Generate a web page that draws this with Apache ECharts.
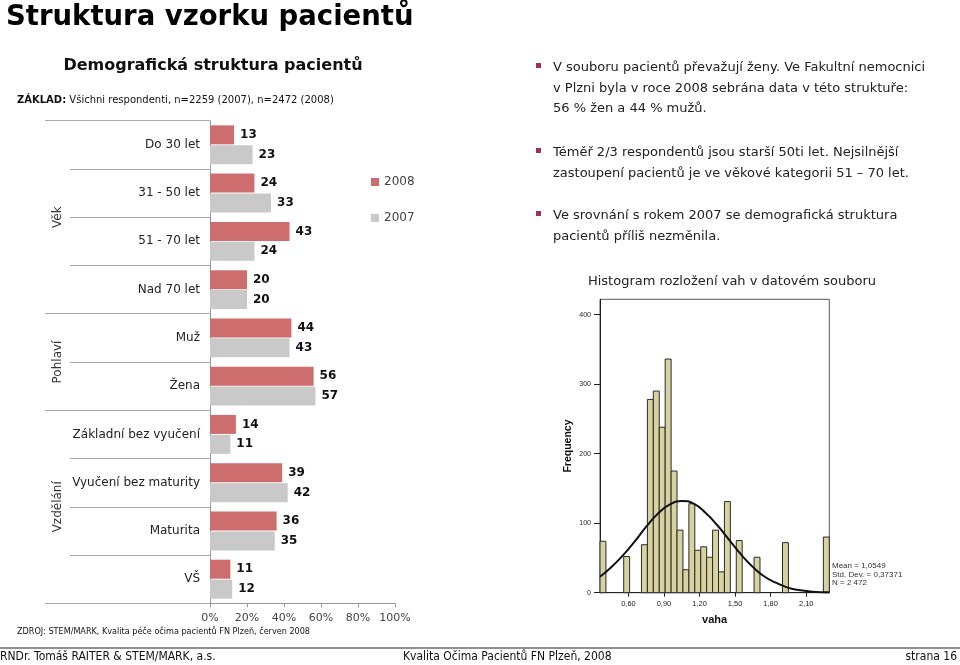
<!DOCTYPE html>
<html><head><meta charset="utf-8">
<script src="https://cdn.jsdelivr.net/npm/echarts@6/dist/echarts.min.js"></script>
<style>html,body{margin:0;padding:0;background:#fff}#c{width:960px;height:665px}</style>
</head><body><div id="c"></div>
<script>
// ---- data ----
const categories = ['Do 30 let','31 - 50 let','51 - 70 let','Nad 70 let','Muž','Žena','Základní bez vyučení','Vyučení bez maturity','Maturita','VŠ'];
const values2008 = [13, 24, 43, 20, 44, 56, 14, 39, 36, 11];
const values2007 = [23, 33, 24, 20, 43, 57, 11, 42, 35, 12];
const seriesNames = ['2008', '2007'];
const groupNames = ['Věk', 'Pohlaví', 'Vzdělání'];
const groupFirst = [0, 4, 6];
const groupLast = [3, 5, 9];

const histBinStart = [0.36, 0.56, 0.71, 0.76, 0.81, 0.86, 0.91, 0.96, 1.01, 1.06, 1.11, 1.16, 1.21, 1.26, 1.31, 1.36, 1.41, 1.51, 1.66, 1.90, 2.245];
const histFreq =     [74,   52,   69,   278,  290,  238,  336,  175,  90,   33,   128,  61,   66,   51,   90,   30,   131,  75,   51,   72,   80];
const binWidth = 0.05;
const curveX = [0.36, 0.45, 0.55, 0.65, 0.75, 0.85, 0.95, 1.05, 1.15, 1.25, 1.35, 1.45, 1.55, 1.65, 1.75, 1.85, 1.95, 2.05, 2.15, 2.295];
const curveY = [23,   36,   53,   73,   95,   114,  127,  132,  128,  115,  97,   76,   55,   37,   23,   14,   7,    3.5,  1.5,  0.5];
const histXTicks = [0.6, 0.9, 1.2, 1.5, 1.8, 2.1];
const histYTicks = [0, 100, 200, 300, 400];
const statsLines = ['Mean = 1,0549', 'Std. Dev. = 0,37371', 'N = 2 472'];

const bulletLines = [
  'V souboru pacientů převažují ženy. Ve Fakultní nemocnici',
  'v Plzni byla v roce 2008 sebrána data v této struktuře:',
  '56 % žen a 44 % mužů.',
  'Téměř 2/3 respondentů jsou starší 50ti let. Nejsilnější',
  'zastoupení pacientů je ve věkové kategorii 51 – 70 let.',
  'Ve srovnání s rokem 2007 se demografická struktura',
  'pacientů příliš nezměnila.'
];
const bulletLineY = [68, 89, 109, 153, 174, 216, 237];
const bulletStarts = [0, 3, 5];

// ---- chart ----
const F = 'DejaVu Sans, Verdana, sans-serif';
const FC = '"DejaVu Sans Condensed", "Liberation Sans Narrow", "Liberation Sans", sans-serif';
const A = '"Liberation Sans", Arial, sans-serif';
const chart = echarts.init(document.getElementById('c'), null, {renderer: 'canvas'});

const option = {
  animation: false,
  textStyle: {fontFamily: F},
  legend: {
    data: seriesNames, orient: 'vertical', left: 366, top: 171,
    itemWidth: 8, itemHeight: 8, itemGap: 24, icon: 'rect',
    textStyle: {fontFamily: F, fontSize: 12, color: '#444'}
  },
  grid: [
    {left: 210, top: 120.7, width: 185, height: 482.6},
    {left: 600, top: 299.3, width: 229.3, height: 293.4, show: true, borderColor: '#555', borderWidth: 1}
  ],
  xAxis: [
    {gridIndex: 0, type: 'value', min: 0, max: 100, interval: 20,
     axisLine: {show: true, lineStyle: {color: '#999'}},
     axisTick: {show: true, length: 4, lineStyle: {color: '#999'}},
     axisLabel: {formatter: '{value}%', fontSize: 11, color: '#444', margin: 9},
     splitLine: {show: false}},
    {gridIndex: 1, type: 'value', min: 0.36, max: 2.295,
     axisLine: {show: true, lineStyle: {color: '#222'}},
     axisTick: {show: true, customValues: histXTicks, length: 4, lineStyle: {color: '#222'}},
     axisLabel: {customValues: histXTicks, formatter: v => v.toFixed(2).replace('.', ','), fontFamily: A, fontSize: 7.5, color: '#222', margin: 7},
     splitLine: {show: false},
     name: 'vaha', nameLocation: 'middle', nameGap: 22,
     nameTextStyle: {fontFamily: A, fontWeight: 'bold', fontSize: 11, color: '#111'}}
  ],
  yAxis: [
    {gridIndex: 0, type: 'category', inverse: true, data: categories, position: 'left',
     axisLine: {show: true, lineStyle: {color: '#999'}},
     axisTick: {show: true, length: 140, lineStyle: {color: '#aaa'}},
     axisLabel: {fontSize: 12, color: '#222', margin: 10}},
    {gridIndex: 0, type: 'category', inverse: true, data: categories, position: 'left', offset: 0,
     axisLine: {show: false},
     axisTick: {show: true, length: 165, interval: (i) => groupFirst.includes(i), lineStyle: {color: '#aaa'}},
     axisLabel: {show: false}},
    {gridIndex: 1, type: 'value', min: 0, max: 422, position: 'left',
     axisLine: {show: true, lineStyle: {color: '#222'}},
     axisTick: {show: true, customValues: histYTicks, length: 6, lineStyle: {color: '#222'}},
     axisLabel: {customValues: histYTicks, fontFamily: A, fontSize: 7, color: '#222', margin: 9},
     splitLine: {show: false},
     name: 'Frequency', nameLocation: 'middle', nameRotate: 90, nameGap: 26,
     nameTextStyle: {fontFamily: A, fontWeight: 'bold', fontSize: 10.5, color: '#111'}}
  ],
  series: [
    {name: seriesNames[0], type: 'bar', xAxisIndex: 0, yAxisIndex: 0, data: values2008,
     barWidth: 19, barGap: '5%', itemStyle: {color: '#CD6D6D'},
     label: {show: true, position: 'right', distance: 6, fontFamily: F, fontWeight: 'bold', fontSize: 12, color: '#111'}},
    {name: seriesNames[1], type: 'bar', xAxisIndex: 0, yAxisIndex: 0, data: values2007,
     barWidth: 19, barGap: '5%', itemStyle: {color: '#C9C9C9'},
     label: {show: true, position: 'right', distance: 6, fontFamily: F, fontWeight: 'bold', fontSize: 12, color: '#111'}},
    {type: 'custom', xAxisIndex: 1, yAxisIndex: 2,
     data: histBinStart.map((s, i) => [s, histFreq[i]]),
     encode: {x: 0, y: 1},
     renderItem: (params, api) => {
       const x0 = api.value(0), h = api.value(1);
       const p0 = api.coord([x0, h]);
       const p1 = api.coord([x0 + binWidth, 0]);
       return {type: 'rect', shape: {x: p0[0], y: p0[1], width: p1[0] - p0[0], height: p1[1] - p0[1]},
               style: {fill: '#D8D1A0', stroke: '#2a2a2a', lineWidth: 1}};
     }},
    {type: 'line', xAxisIndex: 1, yAxisIndex: 2, data: curveX.map((x, i) => [x, curveY[i]]),
     smooth: true, symbol: 'none', lineStyle: {color: '#111', width: 2}, z: 5}
  ]
};
chart.setOption(option);

// ---- texts ----
const g = [];
g.push({type: 'text', x: 6, y: 18, style: {text: 'Struktura vzorku pacientů', font: 'bold 27.5px ' + F, fill: '#000', textVerticalAlign: 'middle'}});
g.push({type: 'text', x: 213, y: 66, style: {text: 'Demografická struktura pacientů', font: 'bold 16px ' + F, fill: '#111', textAlign: 'center', textVerticalAlign: 'middle'}});
g.push({type: 'text', x: 17, y: 100, style: {text: '{b|ZÁKLAD:} Všichni respondenti, n=2259 (2007), n=2472 (2008)', font: '10px ' + F, fill: '#111', textVerticalAlign: 'middle',
        rich: {b: {fontFamily: F, fontWeight: 'bold', fontSize: 10, fill: '#111'}}}});
bulletLines.forEach((t, i) => {
  g.push({type: 'text', x: 553, y: bulletLineY[i], style: {text: t, font: '13px ' + F, fill: '#222', textVerticalAlign: 'middle'}});
});
bulletStarts.forEach(i => {
  g.push({type: 'rect', shape: {x: 536, y: bulletLineY[i] - 5, width: 5, height: 5}, style: {fill: '#9E2F5E'}});
});
g.push({type: 'text', x: 732, y: 282, style: {text: 'Histogram rozložení vah v datovém souboru', font: '13px ' + F, fill: '#222', textAlign: 'center', textVerticalAlign: 'middle'}});
statsLines.forEach((t, i) => {
  g.push({type: 'text', x: 832, y: 566 + i * 8.5, style: {text: t, font: '8px ' + A, fill: '#333', textVerticalAlign: 'middle'}});
});
g.push({type: 'text', x: 17, y: 632, style: {text: 'ZDROJ: STEM/MARK, Kvalita péče očima pacientů FN Plzeň, červen 2008', font: '9px ' + FC, fill: '#111', textVerticalAlign: 'middle'}});
g.push({type: 'line', shape: {x1: 0, y1: 648, x2: 960, y2: 648}, style: {stroke: '#222', lineWidth: 1}});
g.push({type: 'text', x: 0, y: 657, style: {text: 'RNDr. Tomáš RAITER & STEM/MARK, a.s.', font: '12px ' + FC, fill: '#111', textVerticalAlign: 'middle'}});
g.push({type: 'text', x: 403, y: 657, style: {text: 'Kvalita Očima Pacientů FN Plzeň, 2008', font: '12px ' + FC, fill: '#111', textVerticalAlign: 'middle'}});
g.push({type: 'text', x: 957, y: 657, style: {text: 'strana 16', font: '12px ' + FC, fill: '#111', textAlign: 'right', textVerticalAlign: 'middle'}});
groupNames.forEach((name, i) => {
  const y1 = chart.convertToPixel({yAxisIndex: 0}, categories[groupFirst[i]]);
  const y2 = chart.convertToPixel({yAxisIndex: 0}, categories[groupLast[i]]);
  g.push({type: 'text', x: 58, y: (y1 + y2) / 2, rotation: Math.PI / 2,
          style: {text: name, font: '12px ' + F, fill: '#333', textAlign: 'center', textVerticalAlign: 'middle'}});
});
chart.setOption({graphic: {elements: g}});
</script>
</body></html>
